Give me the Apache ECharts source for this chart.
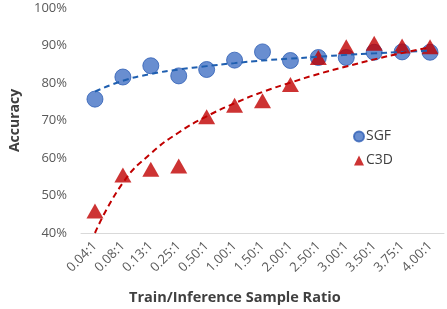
<!DOCTYPE html>
<html><head><meta charset="utf-8">
<script src="https://cdn.jsdelivr.net/npm/echarts@6/dist/echarts.min.js"></script>
<style>html,body{margin:0;padding:0;background:#fff}#c{width:447px;height:309px}</style>
</head><body><div id="c"></div>
<script>
var categories = ['0.04:1','0.08:1','0.13:1','0.25:1','0.50:1','1.00:1','1.50:1','2.00:1','2.50:1','3.00:1','3.50:1','3.75:1','4.00:1'];
var sgf = [75.7, 81.6, 84.6, 81.9, 83.6, 86.1, 88.3, 86.0, 86.8, 86.8, 88.2, 88.3, 88.2];
var c3d = [45.9, 55.5, 57.0, 57.9, 71.0, 74.1, 75.3, 79.6, 86.8, 89.7, 90.6, 89.9, 89.7];
var sgfTrend = [77.7, 80.6, 82.4, 83.6, 84.5, 85.3, 86.0, 86.5, 87.0, 87.5, 87.9, 88.3, 88.6];
var c3dTrend = [40.0, 53.4, 61.2, 66.8, 71.1, 74.6, 77.6, 80.1, 82.4, 84.4, 86.3, 88.0, 89.5];
var yTicks = [40, 50, 60, 70, 80, 90, 100];
var xTitle = 'Train/Inference Sample Ratio';
var yTitle = 'Accuracy';

var font = '"Open Sans", "Noto Sans", sans-serif';
var chart = echarts.init(document.getElementById('c'), null, {renderer: 'canvas'});
chart.setOption({
  animation: false,
  textStyle: {fontFamily: font},
  grid: {left: 67.5, right: 3, top: 8, bottom: 76, containLabel: false},
  graphic: [{
    type: 'text', left: 129, top: 290,
    style: {text: xTitle, font: 'bold 14.5px ' + font, fill: '#404040'}
  }],
  legend: {
    orient: 'vertical', left: 348, top: 124, itemGap: 9, itemWidth: 10, itemHeight: 10,
    data: [{name: 'SGF', icon: 'circle'}, {name: 'C3D', icon: 'triangle'}],
    textStyle: {fontFamily: font, fontSize: 14, lineHeight: 15, color: '#404040', padding: [0, 0, 0, -3]}
  },
  xAxis: {
    type: 'category', data: categories, boundaryGap: true,
    axisLine: {show: true, lineStyle: {color: '#D9D9D9', width: 1}},
    axisTick: {show: false},
    axisLabel: {rotate: 45, interval: 0, fontSize: 13, color: '#595959', margin: 11, fontFamily: font},
    splitLine: {show: false}
  },
  yAxis: {
    type: 'value', min: yTicks[0], max: yTicks[yTicks.length - 1], interval: 10,
    name: yTitle, nameLocation: 'middle', nameGap: 59,
    nameTextStyle: {fontFamily: font, fontSize: 14, fontWeight: 'bold', color: '#404040'},
    axisLine: {show: false}, axisTick: {show: false}, splitLine: {show: false},
    axisLabel: {formatter: '{value}%', fontSize: 13, color: '#595959', margin: 14, fontFamily: font}
  },
  series: [
    {name: 'SGF', type: 'scatter', data: sgf, symbol: 'circle', symbolSize: 16, z: 2,
     itemStyle: {color: '#4472C4', borderColor: '#2F5FB5', borderWidth: 1}},
    {name: 'C3D', type: 'scatter', data: c3d, symbol: 'triangle', symbolSize: [17, 15], z: 3,
     itemStyle: {color: '#C00000'}},
    {name: 'SGF trend', type: 'line', data: sgfTrend, smooth: true, symbol: 'none', z: 4,
     lineStyle: {color: '#1F5FB0', width: 2, type: [6, 4]}},
    {name: 'C3D trend', type: 'line', data: c3dTrend, smooth: true, symbol: 'none', z: 4,
     lineStyle: {color: '#C00000', width: 2, type: [6, 4]}}
  ]
});
</script></body></html>
